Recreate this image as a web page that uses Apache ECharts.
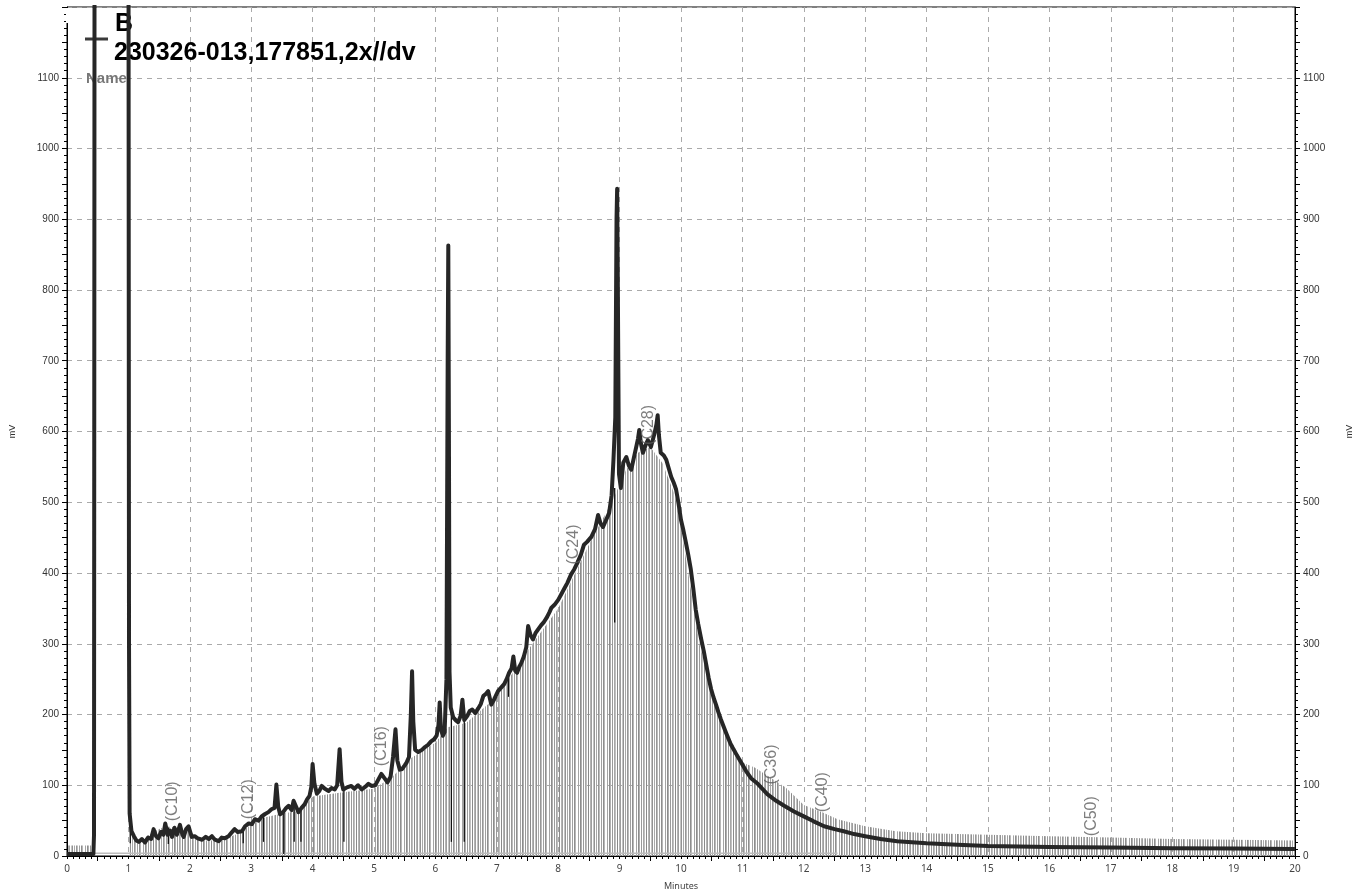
<!DOCTYPE html>
<html>
<head>
<meta charset="utf-8">
<title>230326-013 chromatogram</title>
<script src="https://cdn.jsdelivr.net/npm/echarts@6/dist/echarts.min.js"></script>
<style>
  html, body { margin: 0; padding: 0; background: #fff; }
  #chart { width: 1365px; height: 896px; }
</style>
</head>
<body>
<div id="chart"></div>
<script>
// Detector signal: [retention time (min), response (mV)]
const trace = [
  [0, 3], [0.2, 3], [0.43, 3], [0.44, 30], [0.45, 1500],
  [1.0, 1500], [1.01, 300], [1.02, 60], [1.05, 35], [1.09, 28], [1.13, 22], [1.17, 20], [1.22, 24],
  [1.27, 19], [1.32, 26], [1.37, 24], [1.41, 38], [1.45, 28], [1.49, 25], [1.53, 34], [1.57, 30],
  [1.6, 46], [1.64, 30], [1.68, 36], [1.71, 27], [1.75, 40], [1.79, 30], [1.84, 44], [1.88, 30],
  [1.9, 27], [1.94, 38], [1.98, 42], [2.03, 27], [2.08, 28], [2.13, 25], [2.2, 23], [2.26, 27],
  [2.31, 24], [2.36, 28], [2.41, 23], [2.47, 21], [2.52, 26], [2.57, 25], [2.63, 28], [2.68, 33],
  [2.73, 38], [2.78, 34], [2.85, 35], [2.9, 42], [2.96, 46], [3.01, 45], [3.06, 52], [3.12, 50],
  [3.17, 56], [3.22, 59], [3.28, 62], [3.33, 66], [3.38, 68], [3.41, 101], [3.44, 70], [3.47, 59],
  [3.52, 62], [3.57, 68], [3.61, 71], [3.66, 65], [3.69, 78], [3.73, 70], [3.77, 62], [3.82, 68],
  [3.87, 73], [3.91, 80], [3.95, 85], [3.98, 98], [4.0, 130], [4.03, 102], [4.07, 88], [4.11, 92],
  [4.15, 99], [4.2, 95], [4.26, 92], [4.31, 96], [4.36, 94], [4.4, 100], [4.44, 151], [4.47, 105],
  [4.5, 94], [4.56, 97], [4.63, 99], [4.68, 95], [4.74, 100], [4.8, 94], [4.86, 98], [4.91, 102],
  [4.96, 99], [5.02, 100], [5.07, 108], [5.12, 116], [5.17, 110], [5.22, 104], [5.27, 112],
  [5.31, 140], [5.35, 179], [5.38, 135], [5.42, 122], [5.46, 123], [5.5, 128], [5.53, 132],
  [5.57, 140], [5.6, 200], [5.62, 261], [5.64, 190], [5.67, 150], [5.72, 147], [5.78, 150],
  [5.83, 154], [5.88, 157], [5.93, 162], [5.98, 165], [6.02, 170], [6.05, 185], [6.07, 217],
  [6.09, 180], [6.12, 170], [6.15, 175], [6.18, 250], [6.2, 700], [6.21, 863], [6.22, 600],
  [6.23, 260], [6.25, 210], [6.29, 196], [6.33, 192], [6.37, 189], [6.41, 198], [6.44, 221],
  [6.47, 192], [6.52, 198], [6.56, 205], [6.6, 207], [6.65, 202], [6.7, 209], [6.74, 215],
  [6.78, 226], [6.82, 229], [6.86, 233], [6.91, 214], [6.96, 222], [7.02, 233], [7.07, 238],
  [7.12, 243], [7.16, 250], [7.2, 259], [7.24, 265], [7.27, 282], [7.3, 262], [7.33, 259],
  [7.37, 268], [7.4, 273], [7.44, 282], [7.48, 295], [7.51, 325], [7.55, 312], [7.59, 306],
  [7.63, 315], [7.67, 320], [7.72, 326], [7.77, 331], [7.82, 338], [7.86, 345], [7.89, 351],
  [7.94, 355], [8.0, 362], [8.05, 370], [8.1, 378], [8.15, 386], [8.21, 398], [8.26, 405],
  [8.31, 414], [8.37, 426], [8.42, 440], [8.47, 444], [8.54, 451], [8.6, 462], [8.65, 482],
  [8.69, 470], [8.73, 465], [8.78, 475], [8.83, 485], [8.87, 510], [8.9, 560], [8.93, 620],
  [8.95, 900], [8.96, 943], [8.97, 820], [8.99, 540], [9.02, 520], [9.06, 556], [9.11, 564],
  [9.15, 552], [9.19, 546], [9.23, 562], [9.27, 578], [9.3, 590], [9.32, 602], [9.35, 582],
  [9.38, 570], [9.42, 580], [9.46, 588], [9.51, 578], [9.54, 588], [9.57, 598], [9.6, 610],
  [9.62, 623], [9.64, 595], [9.67, 570], [9.72, 566], [9.76, 560], [9.8, 548], [9.84, 536],
  [9.88, 528], [9.92, 518], [9.96, 498], [10.0, 475], [10.04, 460], [10.08, 443], [10.12, 425],
  [10.16, 405], [10.2, 378], [10.24, 348], [10.28, 328], [10.33, 306], [10.37, 290], [10.41, 271],
  [10.45, 252], [10.49, 236], [10.53, 224], [10.57, 214], [10.61, 203], [10.65, 193], [10.73, 175],
  [10.81, 158], [10.9, 144], [10.98, 132], [11.06, 120], [11.14, 110], [11.25, 102], [11.41, 87],
  [11.55, 78], [11.68, 71], [11.84, 63], [12.0, 56], [12.16, 49], [12.33, 42], [12.5, 38],
  [12.65, 35], [12.82, 31], [13.0, 28], [13.25, 24], [13.52, 21], [14.0, 18], [14.5, 16],
  [15.0, 14], [15.5, 13.5], [16.0, 12.7], [17.0, 12], [18.0, 11], [19.0, 10.5], [20.0, 10]
];

// Upper reach of the integration slices drawn beneath the signal
const sliceTops = [
  [0, 15], [0.44, 15], [0.445, 0], [1.02, 0], [1.03, 40], [1.1, 28], [1.2, 20], [1.4, 34],
  [1.6, 42], [1.8, 40], [2.0, 35], [2.2, 22], [2.5, 22], [2.8, 32], [3.0, 44], [3.2, 54],
  [3.5, 60], [3.8, 64], [4.0, 84], [4.5, 90], [5.0, 95], [5.3, 112], [5.6, 138], [6.0, 160],
  [6.2, 182], [6.5, 188], [7.0, 225], [7.5, 290], [8.0, 350], [8.5, 440], [8.9, 505],
  [9.1, 545], [9.3, 570], [9.5, 578], [9.7, 555], [9.9, 510], [10.0, 465], [10.3, 300],
  [10.6, 200], [11.0, 132], [11.2, 125], [11.7, 97], [12.0, 72], [12.3, 62], [12.55, 52],
  [13.0, 42], [13.5, 35], [14.0, 32], [15.0, 30], [16.0, 28], [17.0, 26], [18.0, 24], [20.0, 22]
];

// Detector baseline segment
const baseline = [[0, 4], [12.55, 4]];

// Dark drop lines: [time, upper mV, lower mV]
const dropLines = [
  [1.03, 48, 18], [1.65, 40, 17], [2.87, 36, 18], [3.2, 55, 20], [3.53, 66, 3],
  [3.7, 72, 20], [3.81, 66, 20], [4.51, 94, 20], [6.26, 205, 20], [6.47, 190, 20],
  [7.19, 255, 225], [8.92, 520, 330]
];

// Carbon-number markers: [time, mV at label foot, text]
const markers = [
  [1.72, 49, '(C10)'], [2.96, 52, '(C12)'], [5.12, 127, '(C16)'], [8.25, 412, '(C24)'],
  [9.47, 581, '(C28)'], [11.48, 101, '(C36)'], [12.31, 62, '(C40)'], [16.69, 28, '(C50)']
];

// Tick label sets
const halfMinuteTicks = [];
for (let i = 0; i <= 40; i++) halfMinuteTicks.push(String(i / 2));
const halfHundredTicks = [];
for (let i = 0; i <= 24; i++) halfHundredTicks.push(String(i * 50));

const sampleTitle = 'B';
const sampleName = '230326-013,177851,2x//dv';

// Vertical hatch used to paint the slice area
function sliceHatch() {
  const shades = ['#8c8c8c', '#b0b0b0', null, '#9a9a9a', null, '#a6a6a6', '#c0c0c0', null,
    '#8a8a8a', null, '#b4b4b4', '#9e9e9e', null, '#c4c4c4', '#929292', null, '#a8a8a8', null,
    '#969696', '#bcbcbc', null, '#a0a0a0', null, '#8e8e8e', '#b8b8b8', null, null, '#a4a4a4', null];
  const c = document.createElement('canvas');
  c.width = shades.length;
  c.height = 4;
  const g = c.getContext('2d');
  shades.forEach((s, i) => {
    if (s) { g.fillStyle = s; g.fillRect(i, 0, 1, 4); }
  });
  return c;
}

const chart = echarts.init(document.getElementById('chart'), null, { renderer: 'canvas' });

const gridLine = { show: true, lineStyle: { color: '#aaa', type: [5, 5], width: 1 } };
const black = { color: '#000', width: 1 };
const plainNumber = (v) => String(v);

chart.setOption({
  animation: false,
  backgroundColor: '#fff',
  grid: { left: 65, right: 70, top: 7, bottom: 39, show: true, borderColor: '#000', borderWidth: 1, backgroundColor: 'transparent' },
  xAxis: [
    {
      type: 'value', min: 0, max: 20, interval: 1, position: 'bottom',
      axisLine: { show: true, lineStyle: black },
      axisTick: { show: true, length: 3, lineStyle: black },
      minorTick: { show: true, splitNumber: 10, length: 3, lineStyle: black },
      axisLabel: { fontSize: 10, color: '#444', margin: 8, formatter: plainNumber, fontFamily: '"Noto Sans", "DejaVu Sans", sans-serif' },
      splitLine: gridLine,
      name: 'Minutes', nameLocation: 'middle', nameGap: 26,
      nameTextStyle: { fontSize: 9, color: '#444', fontFamily: '"Noto Sans", sans-serif' }
    },
    {
      type: 'category', data: halfMinuteTicks, boundaryGap: false, position: 'bottom',
      axisLine: { show: false }, axisLabel: { show: false }, splitLine: { show: false },
      axisTick: { show: true, length: 5, lineStyle: black, interval: (i) => i % 2 === 1 }
    }
  ],
  yAxis: [
    {
      type: 'value', min: 0, max: 1200, interval: 100, position: 'left',
      axisLine: { show: true, lineStyle: black },
      axisTick: { show: true, length: 5, lineStyle: black },
      minorTick: { show: true, splitNumber: 10, length: 3, lineStyle: black },
      axisLabel: { fontSize: 10, color: '#333', margin: 8, showMaxLabel: false, formatter: plainNumber, fontFamily: '"Liberation Sans", Arial, sans-serif' },
      splitLine: gridLine,
      name: 'mV', nameLocation: 'middle', nameGap: 50, nameRotate: 90,
      nameTextStyle: { fontSize: 9, color: '#333', fontFamily: '"Liberation Sans", Arial, sans-serif' }
    },
    {
      type: 'value', min: 0, max: 1200, interval: 100, position: 'right',
      axisLine: { show: true, lineStyle: black },
      axisTick: { show: true, length: 5, lineStyle: black },
      minorTick: { show: true, splitNumber: 10, length: 3, lineStyle: black },
      axisLabel: { fontSize: 10, color: '#333', margin: 8, showMaxLabel: false, formatter: plainNumber, fontFamily: '"Liberation Sans", Arial, sans-serif' },
      splitLine: { show: false },
      name: 'mV', nameLocation: 'middle', nameGap: 50, nameRotate: 90,
      nameTextStyle: { fontSize: 9, color: '#333', fontFamily: '"Liberation Sans", Arial, sans-serif' }
    },
    {
      type: 'category', data: halfHundredTicks, boundaryGap: false, position: 'left',
      axisLine: { show: false }, axisLabel: { show: false }, splitLine: { show: false },
      axisTick: { show: true, length: 5, lineStyle: black, interval: (i) => i % 2 === 1 }
    },
    {
      type: 'category', data: halfHundredTicks, boundaryGap: false, position: 'right',
      axisLine: { show: false }, axisLabel: { show: false }, splitLine: { show: false },
      axisTick: { show: true, length: 5, lineStyle: black, interval: (i) => i % 2 === 1 }
    }
  ],
  graphic: [
    { type: 'rect', z: 1, silent: true, shape: { x: 66, y: 8, width: 64, height: 15 }, style: { fill: '#fff' } },
    { type: 'line', z: 1, silent: true, shape: { x1: 85, y1: 39, x2: 108, y2: 39 }, style: { stroke: '#3a3a3a', lineWidth: 3 } },
    { type: 'text', z: 1, silent: true, style: { x: 115, y: 24, text: sampleTitle, font: 'bold 25px "Liberation Sans", Arial, sans-serif', fill: '#000', textVerticalAlign: 'middle' } },
    { type: 'text', z: 1, silent: true, style: { x: 114, y: 53, text: sampleName, font: 'bold 25px "Liberation Sans", Arial, sans-serif', fill: '#000', textVerticalAlign: 'middle' } },
    { type: 'text', z: 1, silent: true, style: { x: 86, y: 79, text: 'Name', font: 'bold 15px "Liberation Sans", Arial, sans-serif', fill: '#777', textVerticalAlign: 'middle' } }
  ],
  series: [
    {
      name: 'slices', type: 'line', xAxisIndex: 0, yAxisIndex: 0, data: sliceTops,
      showSymbol: false, silent: true, z: 1, clip: true,
      lineStyle: { width: 0, opacity: 0 },
      areaStyle: { color: { image: sliceHatch(), repeat: 'repeat' }, opacity: 1 }
    },
    {
      name: 'baseline', type: 'line', xAxisIndex: 0, yAxisIndex: 0, data: baseline,
      showSymbol: false, silent: true, z: 1,
      lineStyle: { color: '#bdbdbd', width: 1.5 }
    },
    {
      name: 'drops', type: 'custom', xAxisIndex: 0, yAxisIndex: 0, data: dropLines, z: 2, silent: true,
      encode: { x: 0, y: [1, 2] },
      renderItem: function (params, api) {
        const a = api.coord([api.value(0), api.value(1)]);
        const b = api.coord([api.value(0), api.value(2)]);
        return { type: 'line', shape: { x1: a[0], y1: a[1], x2: b[0], y2: b[1] }, style: { stroke: '#111', lineWidth: 1.3 } };
      }
    },
    {
      name: sampleName, type: 'line', xAxisIndex: 0, yAxisIndex: 0, data: trace,
      showSymbol: false, silent: true, z: 3, clip: true,
      lineStyle: { color: '#262626', width: 4, join: 'round' }
    },
    {
      name: 'markers', type: 'scatter', xAxisIndex: 0, yAxisIndex: 0, z: 4, silent: true,
      data: markers.map(m => ({ value: [m[0], m[1]], name: m[2] })),
      symbolSize: 1, itemStyle: { color: 'rgba(0,0,0,0)' },
      label: {
        show: true, formatter: '{b}', position: 'inside', rotate: 90, align: 'left', verticalAlign: 'middle',
        fontSize: 16, color: '#5e5e5e', fontFamily: '"Liberation Sans", Arial, sans-serif'
      }
    }
  ]
});
</script>
</body>
</html>
